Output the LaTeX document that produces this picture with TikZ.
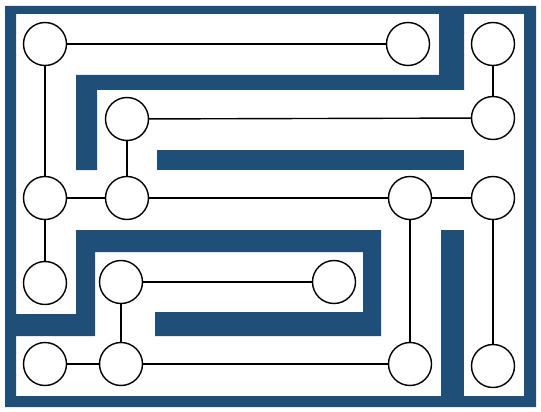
\documentclass[tikz,border=0pt]{standalone}
\usepackage{tikz}
\usepackage{xcolor}
\definecolor{wallblue}{RGB}{31,78,121}
\tikzset{
	spot/.style={%
		draw, circle, fill=white,
		line width=1.4pt,
		minimum size=43pt,
		inner sep=0pt
	},
	wall/.style={fill=wallblue},
	link/.style={line width=1.4pt}
}

\begin{document}
\begin{tikzpicture}[x=1pt,y=-1pt]
		\useasboundingbox (0,0) rectangle (541,412);
		
		% Outer frame of the maze
		\fill[wall,even odd rule] (5,6) rectangle (536,407) (16,14) rectangle (524,396);
		
		% Inner walls
		\fill[wall] (76,170) -- (97,170) -- (97,90) -- (464,90) -- (464,14) -- (439,14) -- (439,75) -- (76,75) -- cycle;
		\fill[wall] (157,150) rectangle (464,170);
		\fill[wall] (16,314) -- (76,314) -- (76,230) -- (381,230) -- (381,336) -- (155,336) -- (155,312) -- (363,312) -- (363,252) -- (95,252) -- (95,336) -- (16,336) -- cycle;
		\fill[wall] (441,230) rectangle (464,396);
		
		% Place the spots row by row
		\node[spot] (r1a) at (45,44) {};
		\node[spot] (r1b) at (408,44) {};
		\node[spot] (r1c) at (493,44) {};
		
		\node[spot] (r2a) at (127,119) {};
		\node[spot] (r2b) at (493,118) {};
		
		\node[spot] (r3a) at (45,198) {};
		\node[spot] (r3b) at (127,198) {};
		\node[spot] (r3c) at (410,198) {};
		\node[spot] (r3d) at (493,198) {};
		
		\node[spot] (r4a) at (45,283) {};
		\node[spot] (r4b) at (121,282) {};
		\node[spot] (r4c) at (334,282) {};
		
		\node[spot] (r5a) at (45,364) {};
		\node[spot] (r5b) at (121,364) {};
		\node[spot] (r5c) at (410,364) {};
		\node[spot] (r5d) at (493,366) {};
		
		%lines between spots
		\draw[link] (r1a)--(r1b);
		\draw[link] (r1a)--(r3a);
		\draw[link] (r1c)--(r2b);
		\draw[link] (r2a)--(r2b);
		\draw[link] (r2a)--(r3b);
		\draw[link] (r3a)--(r3b);
		\draw[link] (r3b)--(r3c);
		\draw[link] (r3c)--(r3d);
		\draw[link] (r3a)--(r4a);
		\draw[link] (r3c)--(r5c);
		\draw[link] (r3d)--(r5d);
		\draw[link] (r4b)--(r4c);
		\draw[link] (r4b)--(r5b);
		\draw[link] (r5a)--(r5b);
		\draw[link] (r5b)--(r5c);
		
\end{tikzpicture}
\end{document}
